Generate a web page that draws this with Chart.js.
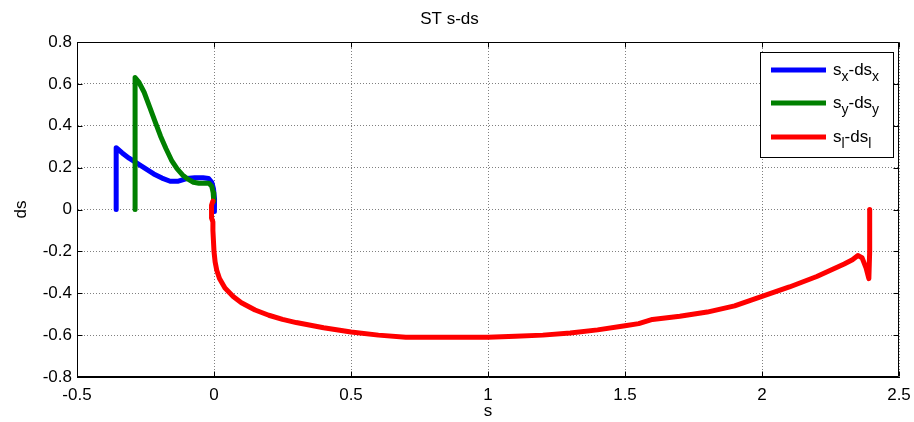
<!DOCTYPE html>
<html><head><meta charset="utf-8">
<script src="https://cdn.jsdelivr.net/npm/chart.js@4"></script>
<style>html,body{margin:0;padding:0;background:#fff}#wrap{width:914px;height:422px}</style>
</head><body><div id="wrap"><canvas id="c" width="914" height="422"></canvas></div>
<script>
const chartTitle = "ST s-ds";
const xLabel = "s";
const yLabel = "ds";
const xTicks = [-0.5, 0, 0.5, 1, 1.5, 2, 2.5];
const yTicks = [-0.8, -0.6, -0.4, -0.2, 0, 0.2, 0.4, 0.6, 0.8];
const seriesLabels = ["s_x-ds_x", "s_y-ds_y", "s_l-ds_l"];
const seriesColors = ["#0000FF", "#008000", "#FF0000"];

const blueS  = [-0.357, -0.357, -0.335, -0.31, -0.28, -0.25, -0.22, -0.19, -0.16, -0.13, -0.10, -0.07, -0.04, -0.02, -0.008, -0.002, 0.002, 0.003, 0.0];
const blueDs = [0, 0.295, 0.27, 0.245, 0.22, 0.195, 0.17, 0.15, 0.135, 0.135, 0.148, 0.152, 0.152, 0.148, 0.13, 0.10, 0.05, 0.01, -0.01];

const greenS  = [-0.288, -0.288, -0.275, -0.255, -0.235, -0.215, -0.195, -0.175, -0.155, -0.135, -0.115, -0.095, -0.075, -0.055, -0.035, -0.018, -0.008, -0.003, -0.001];
const greenDs = [0, 0.63, 0.61, 0.56, 0.49, 0.42, 0.35, 0.29, 0.235, 0.195, 0.165, 0.145, 0.13, 0.125, 0.125, 0.125, 0.11, 0.08, 0.04];

const redS  = [-0.004, -0.009, -0.01, -0.008, -0.004, -0.004, -0.002, 0.0, 0.004, 0.01, 0.02, 0.04, 0.07, 0.1, 0.15, 0.2, 0.25, 0.3, 0.4, 0.5, 0.6, 0.7, 0.8, 0.9, 1.0, 1.1, 1.2, 1.3, 1.4, 1.5, 1.55, 1.6, 1.7, 1.8, 1.9, 2.0, 2.1, 2.2, 2.3, 2.33, 2.35, 2.365, 2.38, 2.39, 2.393, 2.393];
const redDs = [0.04, 0.02, -0.01, -0.04, -0.06, -0.1, -0.15, -0.2, -0.25, -0.29, -0.33, -0.375, -0.415, -0.445, -0.48, -0.505, -0.525, -0.54, -0.565, -0.585, -0.6, -0.61, -0.61, -0.61, -0.61, -0.605, -0.6, -0.59, -0.575, -0.555, -0.545, -0.525, -0.51, -0.49, -0.46, -0.415, -0.37, -0.32, -0.26, -0.24, -0.22, -0.23, -0.28, -0.33, -0.2, 0];

function pts(xs, ys) { return xs.map((x, i) => ({x: x, y: ys[i]})); }

const FONT = "Arial, 'Liberation Sans', sans-serif";

const framePlugin = {
  id: 'frame',
  afterDatasetsDraw(chart) {
    const ctx = chart.ctx, a = chart.chartArea;
    const bw = 133, bh = 105;
    const bx = a.right - 6 - bw, by = a.top + 10;
    ctx.save();
    ctx.fillStyle = '#fff';
    ctx.fillRect(bx, by, bw, bh);
    ctx.strokeStyle = '#000'; ctx.lineWidth = 1;
    ctx.strokeRect(Math.round(bx) + 0.5, Math.round(by) + 0.5, bw, bh);
    const rows = [18, 51, 85];
    seriesLabels.forEach((lab, i) => {
      const ry = by + rows[i];
      ctx.strokeStyle = seriesColors[i]; ctx.lineWidth = 5; ctx.lineCap = 'butt';
      ctx.beginPath(); ctx.moveTo(bx + 11, ry); ctx.lineTo(bx + 66, ry); ctx.stroke();
      let x = bx + 73;
      ctx.fillStyle = '#000'; ctx.textBaseline = 'alphabetic'; ctx.textAlign = 'left';
      const parts = lab.split('_');
      parts.forEach((p, j) => {
        if (j === 0) {
          ctx.font = '17px ' + FONT; ctx.fillText(p, x, ry + 5); x += ctx.measureText(p).width;
        } else {
          const sub = p.charAt(0), rest = p.slice(1);
          ctx.font = '14px ' + FONT; ctx.fillText(sub, x, ry + 11); x += ctx.measureText(sub).width;
          if (rest) { ctx.font = '17px ' + FONT; ctx.fillText(rest, x, ry + 5); x += ctx.measureText(rest).width; }
        }
      });
    });
    ctx.restore();
  },
  afterDraw(chart) {
    const ctx = chart.ctx, a = chart.chartArea;
    const xs = chart.scales.x, ys = chart.scales.y;
    ctx.save();
    ctx.strokeStyle = '#000'; ctx.lineWidth = 1;
    const L = Math.round(a.left) + 0.5, R = Math.round(a.right) - 0.5, T = Math.round(a.top) + 0.5, B = Math.round(a.bottom) - 0.5;
    ctx.beginPath();
    ctx.rect(L, T, R - L, B - T);
    const tl = 5;
    xTicks.forEach(v => {
      const px = Math.round(xs.getPixelForValue(v)) + 0.5;
      ctx.moveTo(px, B); ctx.lineTo(px, B - tl);
      ctx.moveTo(px, T); ctx.lineTo(px, T + tl);
    });
    yTicks.forEach(v => {
      const py = Math.round(ys.getPixelForValue(v)) + 0.5;
      ctx.moveTo(L, py); ctx.lineTo(L + tl, py);
      ctx.moveTo(R, py); ctx.lineTo(R - tl, py);
    });
    ctx.stroke();
    ctx.restore();
  }
};

new Chart(document.getElementById('c'), {
  type: 'scatter',
  data: {
    datasets: [
      {label: seriesLabels[0], data: pts(blueS, blueDs), borderColor: seriesColors[0], backgroundColor: seriesColors[0], order: 3},
      {label: seriesLabels[1], data: pts(greenS, greenDs), borderColor: seriesColors[1], backgroundColor: seriesColors[1], order: 2},
      {label: seriesLabels[2], data: pts(redS, redDs), borderColor: seriesColors[2], backgroundColor: seriesColors[2], order: 1}
    ].map(d => Object.assign(d, {showLine: true, pointRadius: 0, borderWidth: 5, borderCapStyle: 'round', borderJoinStyle: 'round', tension: 0, fill: false}))
  },
  options: {
    responsive: false,
    animation: false,
    devicePixelRatio: 1,
    layout: {padding: {left: 0, right: 15, top: 0, bottom: 0}},
    plugins: {
      legend: {display: false},
      tooltip: {enabled: false},
      title: {display: true, text: chartTitle, color: '#000', font: {family: FONT, size: 17, weight: 'normal'}, padding: {top: 9, bottom: 12.6}}
    },
    scales: {
      x: {
        type: 'linear', min: -0.5, max: 2.5,
        afterBuildTicks: s => { s.ticks = xTicks.map(v => ({value: v})); },
        afterFit: s => { s.height = 45; s.paddingLeft = 0; s.paddingRight = 0; },
        ticks: {color: '#000', font: {family: FONT, size: 17}, padding: 8, maxRotation: 0, callback: v => String(v)},
        grid: {color: '#808080', lineWidth: 1, drawTicks: false},
        border: {display: true, color: '#000', dash: [1, 2]},
        title: {display: true, text: xLabel, color: '#000', font: {family: FONT, size: 17}, padding: {top: 0, bottom: 0}}
      },
      y: {
        type: 'linear', min: -0.8, max: 0.8,
        afterBuildTicks: s => { s.ticks = yTicks.map(v => ({value: v})); },
        afterFit: s => { s.width = 77; s.paddingTop = 0; s.paddingBottom = 0; },
        ticks: {color: '#000', font: {family: FONT, size: 17}, padding: 5, callback: v => String(v)},
        grid: {color: '#808080', lineWidth: 1, drawTicks: false},
        border: {display: true, color: '#000', dash: [1, 2]},
        title: {display: true, text: yLabel, color: '#000', font: {family: FONT, size: 17}, padding: {top: 11, bottom: 0}}
      }
    }
  },
  plugins: [framePlugin]
});
</script>
</body></html>
